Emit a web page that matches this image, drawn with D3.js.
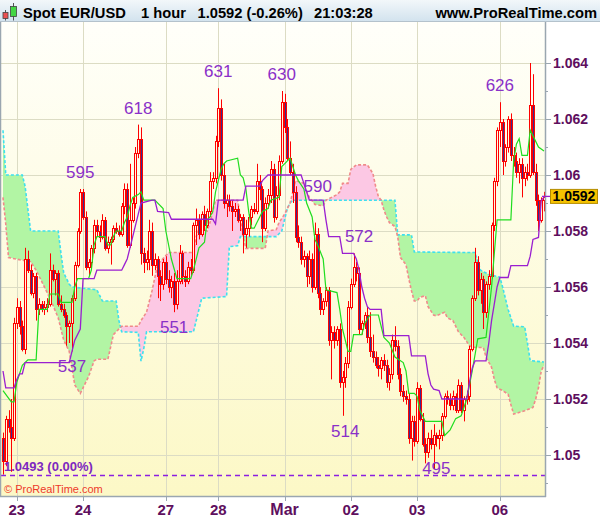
<!DOCTYPE html>
<html><head><meta charset="utf-8">
<script src="https://cdn.jsdelivr.net/npm/d3@7"></script>
<style>html,body{margin:0;padding:0;background:#fff;}svg{display:block;}</style>
</head><body>
<svg id="c" width="600" height="519"></svg>
<script>
// ---------- DATA (prices in pips: price = 1 + v/10000) ----------
const title = "Spot EUR/USD";
const period = "1 hour";
const lastQuote = "1.0592 (-0.26%)";
const clock = "21:03:28";
const site = "www.ProRealTime.com";
const lastPrice = 1.0592;
const refLevel = 1.0493;
const refLabel = "1.0493 (0.00%)";

const priceTickValues = [1.05, 1.052, 1.054, 1.056, 1.058, 1.06, 1.062, 1.064];
const priceTickLabels = ["1.05", "1.052", "1.054", "1.056", "1.058", "1.06", "1.062", "1.064"];
const minorTickValues = [1.049, 1.051, 1.053, 1.055, 1.057, 1.059, 1.061, 1.063];
const dateLabels = ["23", "24", "27", "28", "Mar", "02", "03", "06"];
const dateBars = [5, 29, 59, 78, 102, 126, 150, 180];

// hourly candles [open, high, low, close]
const candles = [
[506,508,493,498],[498,514,496,513],[513,516,508,510],[510,520,494,506],[506,549,505,547],
[547,556,545,553],[553,555,543,546],[546,548,537,538],[538,574,536,570],[570,573,565,566],
[566,568,557,558],[558,565,556,564],[564,565,548,552],[552,556,550,554],[554,555,551,552],
[552,555,550,553],[553,556,551,554],[554,572,553,566],[566,568,562,563],[563,566,557,565],
[565,566,553,554],[554,557,551,552],[552,554,549,550],[550,551,539,546],[546,548,540,547],
[547,557,537,556],[556,569,555,568],[568,581,567,580],[580,595,579,594],[594,595,584,585],
[585,587,566,567],[567,570,564,569],[569,575,567,574],[574,584,572,582],[582,584,578,580],
[580,582,576,578],[578,586,577,584],[584,585,573,574],[574,578,572,576],[576,578,568,577],
[577,582,576,581],[581,583,579,580],[580,582,578,579],[579,590,578,589],[589,597,586,595],
[595,597,574,575],[575,604,574,584],[584,592,583,590],[590,610,588,608],[608,618,606,613],
[613,617,568,572],[572,574,565,569],[569,573,566,570],[570,584,566,580],[580,583,564,568],
[568,572,566,570],[570,571,556,564],[564,566,555,561],[561,570,559,569],[569,571,561,563],
[563,566,558,560],[560,564,556,562],[562,565,551,554],[554,566,552,562],[562,575,561,572],
[572,573,561,564],[564,566,560,562],[562,569,561,567],[567,570,564,566],[566,583,565,582],
[582,588,575,584],[584,586,577,579],[579,587,578,586],[586,589,580,582],[582,588,581,587],
[587,601,585,598],[598,601,595,599],[599,614,597,612],[612,631,610,624],[624,627,598,600],
[600,604,588,590],[590,593,585,591],[591,593,587,589],[589,591,580,587],[587,590,585,588],
[588,589,583,584],[584,586,580,585],[585,586,572,579],[579,584,574,581],[581,586,578,585],
[585,589,582,588],[588,590,586,587],[587,604,586,598],[598,600,591,595],[595,596,576,581],
[581,592,580,590],[590,595,588,593],[593,605,590,602],[602,604,583,585],[585,596,584,593],
[593,607,591,605],[605,630,604,626],[626,629,615,617],[617,620,605,606],[606,612,600,601],
[601,604,590,594],[594,596,576,578],[578,582,574,576],[576,578,568,570],[570,573,567,571],
[571,572,560,564],[564,573,561,570],[570,572,558,560],[560,583,559,579],[579,581,556,558],
[558,560,550,552],[552,556,550,555],[555,560,553,559],[559,560,539,541],[541,546,527,544],
[544,546,538,541],[541,546,539,545],[545,547,524,526],[526,530,514,528],[528,535,524,533],
[533,555,531,553],[553,563,552,561],[561,572,560,567],[567,569,562,565],[565,567,543,545],
[545,548,543,547],[547,551,545,550],[550,553,540,542],[542,551,535,537],[537,543,533,535],
[535,537,531,532],[532,535,528,531],[531,535,527,534],[534,536,530,532],[532,534,524,526],
[526,531,523,529],[529,543,527,541],[541,546,537,539],[539,541,527,529],[529,531,521,523],
[523,525,519,521],[521,523,518,520],[520,522,504,506],[506,514,498,512],[512,514,503,505],
[505,526,504,524],[524,525,512,513],[513,515,503,504],[504,506,497,501],[501,508,499,506],
[506,509,502,504],[504,511,495,507],[507,508,503,506],[506,509,502,507],[507,515,505,514],
[514,522,513,521],[521,523,518,520],[520,522,516,518],[518,523,516,521],[521,522,515,516],
[516,527,515,525],[525,526,515,516],[516,521,512,520],[520,523,518,521],[521,539,519,538],
[538,557,537,556],[556,574,555,569],[569,571,557,559],[559,565,554,563],[563,564,545,551],
[551,562,549,561],[561,566,559,564],[564,583,563,582],[582,599,580,598],[598,617,596,616],
[616,626,610,619],[619,620,600,605],[605,611,603,610],[610,621,608,620],[620,622,605,607],
[607,610,603,605],[605,608,599,601],[601,606,597,604],[604,606,592,599],[599,603,596,601],
[601,604,598,600],[600,640,599,625],[625,636,600,601],[601,604,589,591],[591,593,580,584],
[584,592,583,591],[591,594,587,592]
];

// Tenkan (green) [bar, value]
const tenkan = [[0,523],[3,519],[4,519],[5,526],[7,532],[9,534],[12,534],[13,552],[16,552],[17,557.5],[20,557.5],[21,554.5],[25,554.5],[26,560],[27,563],[31,563],[32,566],[33,575],[34,578],[37,578],[38,575],[39,575],[40,578],[41,580],[43,580],[44,583],[45,585],[46,589],[47,592],[49,593],[50,594],[51,591],[55,591],[58,588],[59,580],[61,570],[63,563],[68,563],[69,566],[71,574],[73,576],[74,584],[75,585],[76,587],[77,594],[78,598],[79,602],[80,604],[81,605],[85,606],[86,600],[87,599],[88,595],[89,587],[90,581],[91,581],[92,583],[94,587],[96,588],[97,591],[100,592],[101,603],[102,604],[104,606],[106,600],[107,598],[109,595],[110,590],[112,585],[113,577],[114,575],[116,570],[117,559],[121,558],[122,552],[123,545],[125,537],[126,537],[127,543],[130,543],[131,547],[133,550],[136,550],[138,542],[140,540],[142,535],[145,533],[146,530],[147,522],[149,522],[150,521],[151,516],[152,514],[153,512],[159,512],[160,507],[162,509],[164,513],[166,514],[168,520],[170,530],[172,541.5],[175,542],[177,560],[179,584],[184,584],[185,605],[186,611],[187,613],[188,607],[190,607],[191,616],[192,614],[194,610],[196,608.6]];

// Kijun (purple) [bar, value]
const kijun = [[0,530],[1,524],[4,524],[5,527],[6,529],[7,529],[8,533],[24,533],[25,537],[26,541],[28,545],[29,563],[33,563],[34,566],[43,566],[44,568],[45,570],[46,574],[47,578],[48,582],[49,586],[50,590],[54,591],[55,591],[56,587],[60,586.6],[61,584.2],[76,584.2],[77,582.5],[78,591],[87,591],[88,596],[93,596],[94,598],[96,600],[108,600],[109,597],[110,594],[111,591],[116,591],[117,584],[118,578],[122,578],[123,572],[127,572],[128,570],[129,566],[130,560],[131,556],[132,553],[133,552],[137,552],[138,542.6],[147,542.6],[148,535.4],[153,535.4],[154,529],[155,525],[156,523.5],[158,523],[159,520],[168,520],[169,526],[170,531],[171,533.6],[175,533.6],[176,540],[177,548],[178,554],[179,560],[180,563.4],[183,563.4],[184,567.6],[190,567.6],[191,571],[192,577],[194,577.7],[195,591],[196,592]];

// Senkou span A (salmon dashed) [bar, value]
const spanA = [[0,592],[1,582.5],[2,570.5],[10,569],[12,566],[17,556],[20,549],[22,541],[24,537],[25,531],[26,525],[28,522],[29,524],[31,528],[33,533.6],[34,534.2],[38,534.2],[40,543],[43,546],[49,546],[50,548],[52,551],[54,558.7],[56,568],[60,572.3],[69,572.3],[70,578],[71,580.7],[74,580],[75,583],[76,587],[77,591],[85,591],[86,585],[87,578],[88,573.8],[95,573.8],[96,580],[99,580.5],[100,583],[102,586],[104,590],[106,598],[109,597],[110,594],[111,592],[113,589.5],[116,589],[117,591],[121,593],[122,594],[123,597],[125,597],[126,602],[128,603.6],[132,603.6],[134,600.6],[135,596],[136,592.3],[137,591],[138,587.5],[139,585],[140,583],[142,581.6],[143,578],[144,570.5],[146,568],[147,563],[148,558.6],[149,555],[150,555],[151,556.3],[153,556.9],[154,553],[156,550],[157,549.7],[160,551],[161,549],[163,548],[165,544],[167,542],[169,539],[171,538.4],[174,538.4],[175,535],[177,531.3],[178,527],[179,524],[181,523],[183,521.7],[184,518],[185,514.6],[189,515.8],[192,517],[193,520],[194,524],[195,530],[196,532]];

// Senkou span B (cyan dashed) [bar, value]
const spanB = [[0,616],[1,600],[7,600],[8,596],[9,588],[10,580],[20,580],[21,572],[22,565],[24,561],[25,560],[34,559],[35,557],[36,555],[41,555],[42,548],[43,544],[49,543.8],[50,533.5],[51,538],[52,544],[69,544],[70,548],[71,552],[72,556],[81,556.6],[82,574.4],[85,574.7],[86,578],[99,578],[100,579],[101,580],[102,584],[103,588],[104,590],[105,591],[142,591],[143,578.6],[148,578.6],[149,572.5],[171,572.3],[172,569],[173,566],[176,564.5],[180,563.5],[181,560],[182,556],[183,552],[184,549],[185,546],[189,545.8],[190,540],[191,533.7],[196,533.2]];

// swing labels
const swingBars = [25, 28, 49, 62, 78, 101, 114, 124, 129, 157, 180];
const swingValues = [537, 595, 618, 551, 631, 630, 590, 514, 572, 495, 626];
const swingIsLow = [true, false, false, true, false, false, false, true, false, true, false];

// ---------- DRAWING ----------
const pip = v => 1 + v / 10000;
const P = {left: 1, right: 545, top: 22, bottom: 496};
const x = d3.scaleLinear().domain([0, 196]).range([3, 544]);
const y = d3.scaleLinear().domain([1.05, 1.064]).range([455, 63]);

const svg = d3.select("#c");
const defs = svg.append("defs");
const hg = defs.append("linearGradient").attr("id", "hg").attr("x1", 0).attr("y1", 0).attr("x2", 0).attr("y2", 1);
hg.append("stop").attr("offset", "0%").attr("stop-color", "#f2f7fa");
hg.append("stop").attr("offset", "100%").attr("stop-color", "#d3e3ee");
const pg = defs.append("linearGradient").attr("id", "pg").attr("x1", 0).attr("y1", 0).attr("x2", 0).attr("y2", 1);
pg.append("stop").attr("offset", "0%").attr("stop-color", "#fffffa");
pg.append("stop").attr("offset", "100%").attr("stop-color", "#fcf8c6");
defs.append("clipPath").attr("id", "plotClip").append("rect")
  .attr("x", P.left).attr("y", P.top).attr("width", P.right - P.left).attr("height", P.bottom - P.top);

const lineXY = d3.line().x(d => x(d[0])).y(d => y(pip(d[1])));
const belowArea = d3.area().x(d => x(d[0])).y0(d => y(pip(d[1]))).y1(P.bottom + 5);
const aboveArea = d3.area().x(d => x(d[0])).y0(P.top - 5).y1(d => y(pip(d[1])));
defs.append("clipPath").attr("id", "aboveA").append("path").attr("d", aboveArea(spanA));
defs.append("clipPath").attr("id", "aboveB").append("path").attr("d", aboveArea(spanB));

svg.append("rect").attr("width", 600).attr("height", 519).attr("fill", "#ffffff");
svg.append("rect").attr("x", 0).attr("y", 0).attr("width", 600).attr("height", 21).attr("fill", "url(#hg)");
svg.append("line").attr("x1", 0).attr("x2", 600).attr("y1", 21.5).attr("y2", 21.5).attr("stroke", "#b4c2cc");
svg.append("rect").attr("x", P.left).attr("y", P.top).attr("width", P.right - P.left).attr("height", P.bottom - P.top).attr("fill", "url(#pg)");

const plot = svg.append("g").attr("clip-path", "url(#plotClip)");

// grid
plot.selectAll(".hg").data(priceTickValues).enter().append("line")
  .attr("x1", P.left).attr("x2", P.right).attr("y1", d => Math.round(y(d)) + 0.5).attr("y2", d => Math.round(y(d)) + 0.5)
  .attr("stroke", "#dcdcc4").attr("stroke-width", 1);
plot.selectAll(".vg").data(dateBars).enter().append("line")
  .attr("y1", P.top).attr("y2", P.bottom).attr("x1", d => Math.round(x(d)) + 0.5).attr("x2", d => Math.round(x(d)) + 0.5)
  .attr("stroke", "#dcdcc4").attr("stroke-width", 1);

// cloud
plot.append("g").attr("clip-path", "url(#aboveA)").append("path")
  .attr("d", belowArea(spanB)).attr("fill", "#b2f5a4");
plot.append("g").attr("clip-path", "url(#aboveB)").append("path")
  .attr("d", belowArea(spanA)).attr("fill", "#fcc8e4");
plot.append("path").attr("d", lineXY(spanB)).attr("fill", "none").attr("stroke", "#3ee0ee").attr("stroke-width", 1.6).attr("stroke-dasharray", "3,2");
plot.append("path").attr("d", lineXY(spanA)).attr("fill", "none").attr("stroke", "#f08a8a").attr("stroke-width", 1.6).attr("stroke-dasharray", "3,2");

// candles
const cg = plot.append("g");
candles.forEach((c, i) => {
  const [o, h, l, cl] = c;
  const cx = Math.round(x(i));
  cg.append("line").attr("x1", cx + 0.5).attr("x2", cx + 0.5)
    .attr("y1", y(pip(h))).attr("y2", y(pip(l))).attr("stroke", "#ff0000").attr("stroke-width", 1);
  const top = Math.round(y(pip(Math.max(o, cl))));
  const bot = Math.round(y(pip(Math.min(o, cl))));
  cg.append("rect").attr("x", cx - 0.5).attr("y", top + 0.5).attr("width", 2).attr("height", Math.max(1, bot - top))
    .attr("fill", cl < o ? "#3a2c8c" : "#fffbe0").attr("stroke", "#ff0000").attr("stroke-width", 1);
});

// lines
plot.append("path").attr("d", lineXY(tenkan)).attr("fill", "none").attr("stroke", "#1fdd1f").attr("stroke-width", 1.2);
plot.append("path").attr("d", lineXY(kijun)).attr("fill", "none").attr("stroke", "#9a1fd0").attr("stroke-width", 1.3);

// reference level
plot.append("line").attr("x1", P.left).attr("x2", P.right).attr("y1", Math.round(y(refLevel)) + 0.5).attr("y2", Math.round(y(refLevel)) + 0.5)
  .attr("stroke", "#8a1fe0").attr("stroke-width", 1.3).attr("stroke-dasharray", "5,4");
svg.append("text").attr("x", 4).attr("y", 471).text(refLabel)
  .attr("font-family", "Liberation Sans, Arial, sans-serif").attr("font-weight", "bold").attr("font-size", 13).attr("fill", "#7d28c0");

// swing labels
svg.selectAll(".sw").data(swingValues).enter().append("text")
  .attr("x", (d, i) => x(swingBars[i]))
  .attr("y", (d, i) => swingIsLow[i] ? Math.min(y(pip(d)) + 21, 474) : y(pip(d)) - 11)
  .attr("text-anchor", "middle").text(d => String(d))
  .attr("font-family", "Liberation Sans, Arial, sans-serif").attr("font-size", 17).attr("fill", "#8a30c8");

svg.append("text").attr("x", 4).attr("y", 493).text("\u00a9 ProRealTime.com")
  .attr("font-family", "Liberation Sans, Arial, sans-serif").attr("font-size", 11).attr("fill", "#ee3a2a");

// borders
svg.append("line").attr("x1", P.right + 0.5).attr("x2", P.right + 0.5).attr("y1", P.top).attr("y2", P.bottom + 1).attr("stroke", "#9aa6b0").attr("stroke-width", 1.5);
svg.append("line").attr("x1", 0).attr("x2", P.right + 1).attr("y1", P.bottom + 0.5).attr("y2", P.bottom + 0.5).attr("stroke", "#9aa6b0").attr("stroke-width", 1.5);
svg.append("line").attr("x1", 0.5).attr("x2", 0.5).attr("y1", P.top).attr("y2", P.bottom).attr("stroke", "#9aa6b0").attr("stroke-width", 1.5);

// right axis
const axisFont = "Liberation Sans, Arial, sans-serif";
svg.selectAll(".rt").data(priceTickValues).enter().append("line")
  .attr("x1", P.right).attr("x2", P.right + 6).attr("y1", d => Math.round(y(d)) + 0.5).attr("y2", d => Math.round(y(d)) + 0.5).attr("stroke", "#9aa6b0");
svg.selectAll(".rm").data(minorTickValues).enter().append("line")
  .attr("x1", P.right).attr("x2", P.right + 3).attr("y1", d => Math.round(y(d)) + 0.5).attr("y2", d => Math.round(y(d)) + 0.5).attr("stroke", "#9aa6b0");
svg.selectAll(".rl").data(priceTickValues).enter().append("text")
  .attr("x", 553).attr("y", d => y(d) + 5).text((d, i) => priceTickLabels[i])
  .attr("font-family", axisFont).attr("font-weight", "bold").attr("font-size", 14).attr("fill", "#5e0f5e");

// last price marker
const ly = y(lastPrice);
svg.append("line").attr("x1", 542).attr("x2", 551).attr("y1", ly - 1).attr("y2", ly - 1).attr("stroke", "#9a1fd0").attr("stroke-width", 1.3);
svg.append("rect").attr("x", 550.5).attr("y", ly - 8).attr("width", 47).attr("height", 14)
  .attr("fill", "#f6c300").attr("stroke", "#b48c00");
svg.append("text").attr("x", 574).attr("y", ly + 4).attr("text-anchor", "middle").text(lastPrice.toFixed(4))
  .attr("font-family", axisFont).attr("font-weight", "bold").attr("font-size", 14).attr("fill", "#000");

// bottom axis
svg.selectAll(".bt").data(dateBars).enter().append("line")
  .attr("x1", d => Math.round(x(d)) + 0.5).attr("x2", d => Math.round(x(d)) + 0.5).attr("y1", P.bottom).attr("y2", P.bottom + 5).attr("stroke", "#9aa6b0");
svg.selectAll(".bl").data(dateLabels).enter().append("text")
  .attr("x", (d, i) => x(dateBars[i])).attr("y", 515).attr("text-anchor", "middle").text(d => d)
  .attr("font-family", axisFont).attr("font-weight", "bold").attr("font-size", d => d === "Mar" ? 16 : 15).attr("fill", "#5e0f5e");

// header
const hf = {"font-family": axisFont, "font-weight": "bold", "font-size": 14.7, "fill": "#000"};
function htext(t, xx, anchor) {
  const e = svg.append("text").attr("x", xx).attr("y", 17.5).attr("text-anchor", anchor || "start").text(t);
  Object.entries(hf).forEach(([k, v]) => e.attr(k, v));
}
htext(title, 23);
htext(period, 141);
htext(lastQuote, 197.5);
htext(clock, 314);
htext(site, 597, "end");
// icon
svg.append("line").attr("x1", 5.5).attr("x2", 5.5).attr("y1", 10).attr("y2", 20.5).attr("stroke", "#555");
svg.append("rect").attr("x", 3).attr("y", 12.5).attr("width", 5).attr("height", 6).attr("fill", "#ea5050").attr("stroke", "#444").attr("stroke-width", 0.8);
svg.append("line").attr("x1", 13.5).attr("x2", 13.5).attr("y1", 3).attr("y2", 20.5).attr("stroke", "#555");
svg.append("rect").attr("x", 10.5).attr("y", 6.5).attr("width", 6).attr("height", 10).attr("fill", "#44d644").attr("stroke", "#444").attr("stroke-width", 0.8);
</script>
</body></html>
